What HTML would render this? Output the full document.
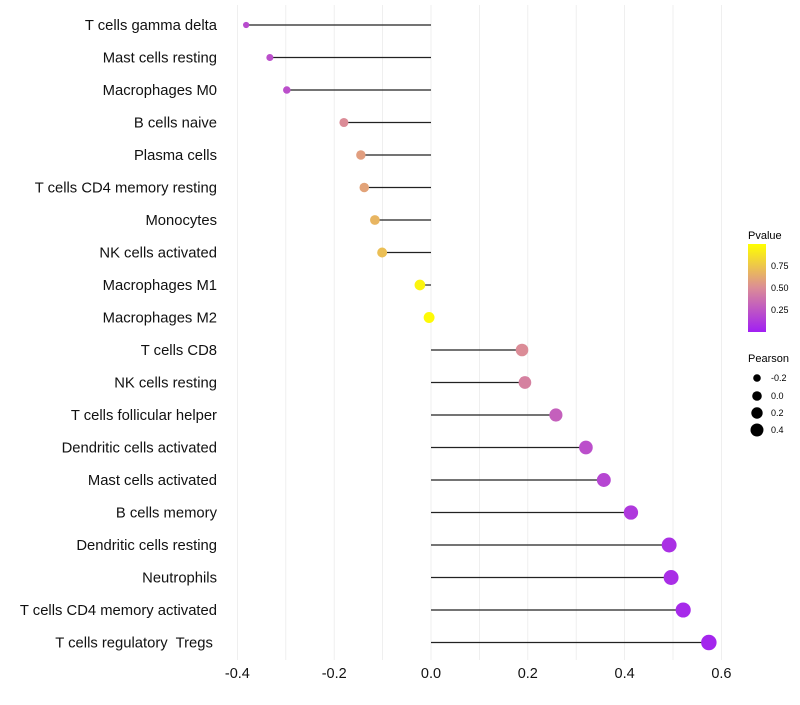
<!DOCTYPE html>
<html><head><meta charset="utf-8"><style>
body{margin:0;background:#fff;font-family:"Liberation Sans",sans-serif;}
</style></head><body>
<svg id="c" width="800" height="700" xmlns="http://www.w3.org/2000/svg">
<defs><linearGradient id="pg" x1="0" y1="1" x2="0" y2="0">
<stop offset="0" stop-color="#A11FF3"/><stop offset="0.5" stop-color="#DB8C97"/><stop offset="1" stop-color="#FFFF00"/>
</linearGradient></defs>
<g id="grid"></g>
<g id="marks"></g>
<g id="axes"></g>
<g font-size="10">
<text x="748" y="239" font-size="11">Pvalue</text>
<rect x="748" y="244" width="18" height="88" fill="url(#pg)"/>
<text x="771" y="269" font-size="9">0.75</text>
<text x="771" y="291" font-size="9">0.50</text>
<text x="771" y="313" font-size="9">0.25</text>
</g>
<g font-size="9">
<text x="748" y="362" font-size="11">Pearson</text>
<circle cx="757" cy="378" r="3.8"/><text x="771" y="381">-0.2</text>
<circle cx="757" cy="396" r="4.8"/><text x="771" y="399">0.0</text>
<circle cx="757" cy="413" r="5.7"/><text x="771" y="416">0.2</text>
<circle cx="757" cy="430" r="6.5"/><text x="771" y="433">0.4</text>
</g>
</svg>
<script>
const categories=["T cells gamma delta","Mast cells resting","Macrophages M0","B cells naive","Plasma cells","T cells CD4 memory resting","Monocytes","NK cells activated","Macrophages M1","Macrophages M2","T cells CD8","NK cells resting","T cells follicular helper","Dendritic cells activated","Mast cells activated","B cells memory","Dendritic cells resting","Neutrophils","T cells CD4 memory activated","T cells regulatory  Tregs "];
const pearson=[-0.384,-0.335,-0.30,-0.182,-0.147,-0.14,-0.118,-0.103,-0.025,-0.006,0.186,0.192,0.256,0.318,0.355,0.411,0.49,0.494,0.519,0.572];
const pvalue=[0.2,0.22,0.22,0.5,0.58,0.6,0.68,0.72,0.95,0.98,0.5,0.45,0.3,0.22,0.18,0.12,0.08,0.07,0.05,0.03];
const xTicks=[-0.4,-0.2,0,0.2,0.4,0.6];
const NS="http://www.w3.org/2000/svg";
const x=v=>431+v*484;
const y=i=>25+i*32.5;
const r=v=>1.1*Math.sqrt(Math.max(3,24.7+43.3*v));
function lerp(a,b,t){return a.map((c,k)=>Math.round(c+(b[k]-c)*t));}
function col(p){const A=[161,31,243],B=[219,140,151],C=[255,255,0];const c=p<0.5?lerp(A,B,p/0.5):lerp(B,C,(p-0.5)/0.5);return `rgb(${c})`;}
function mk(t,a,parent){const e=document.createElementNS(NS,t);for(const k in a)e.setAttribute(k,a[k]);parent.appendChild(e);return e;}
const grid=document.getElementById('grid'),marks=document.getElementById('marks'),axes=document.getElementById('axes');
for(let v=-0.4;v<=0.61;v+=0.1){const g=mk('line',{x1:x(v),x2:x(v),y1:5,y2:660,stroke:'#ebebeb','stroke-width':0.8},grid);

}
xTicks.forEach(t=>{const e=mk('text',{x:x(t),y:678,'text-anchor':'middle','font-size':14.5,fill:'#111'},axes);e.textContent=t===0?'0.0':t.toFixed(1);

});
categories.forEach((c,i)=>{const e=mk('text',{x:217,y:y(i)+5,'text-anchor':'end','font-size':14.8,fill:'#111','xml:space':'preserve',style:'white-space:pre'},axes);e.textContent=c;


const l=mk('line',{x1:x(0),x2:x(pearson[i]),y1:y(i),y2:y(i),stroke:'#222','stroke-width':1.2},marks);


const p=mk('circle',{cx:x(pearson[i])+1,cy:y(i),r:r(pearson[i]),fill:col(pvalue[i])},marks);

});
</script>
</body></html>
